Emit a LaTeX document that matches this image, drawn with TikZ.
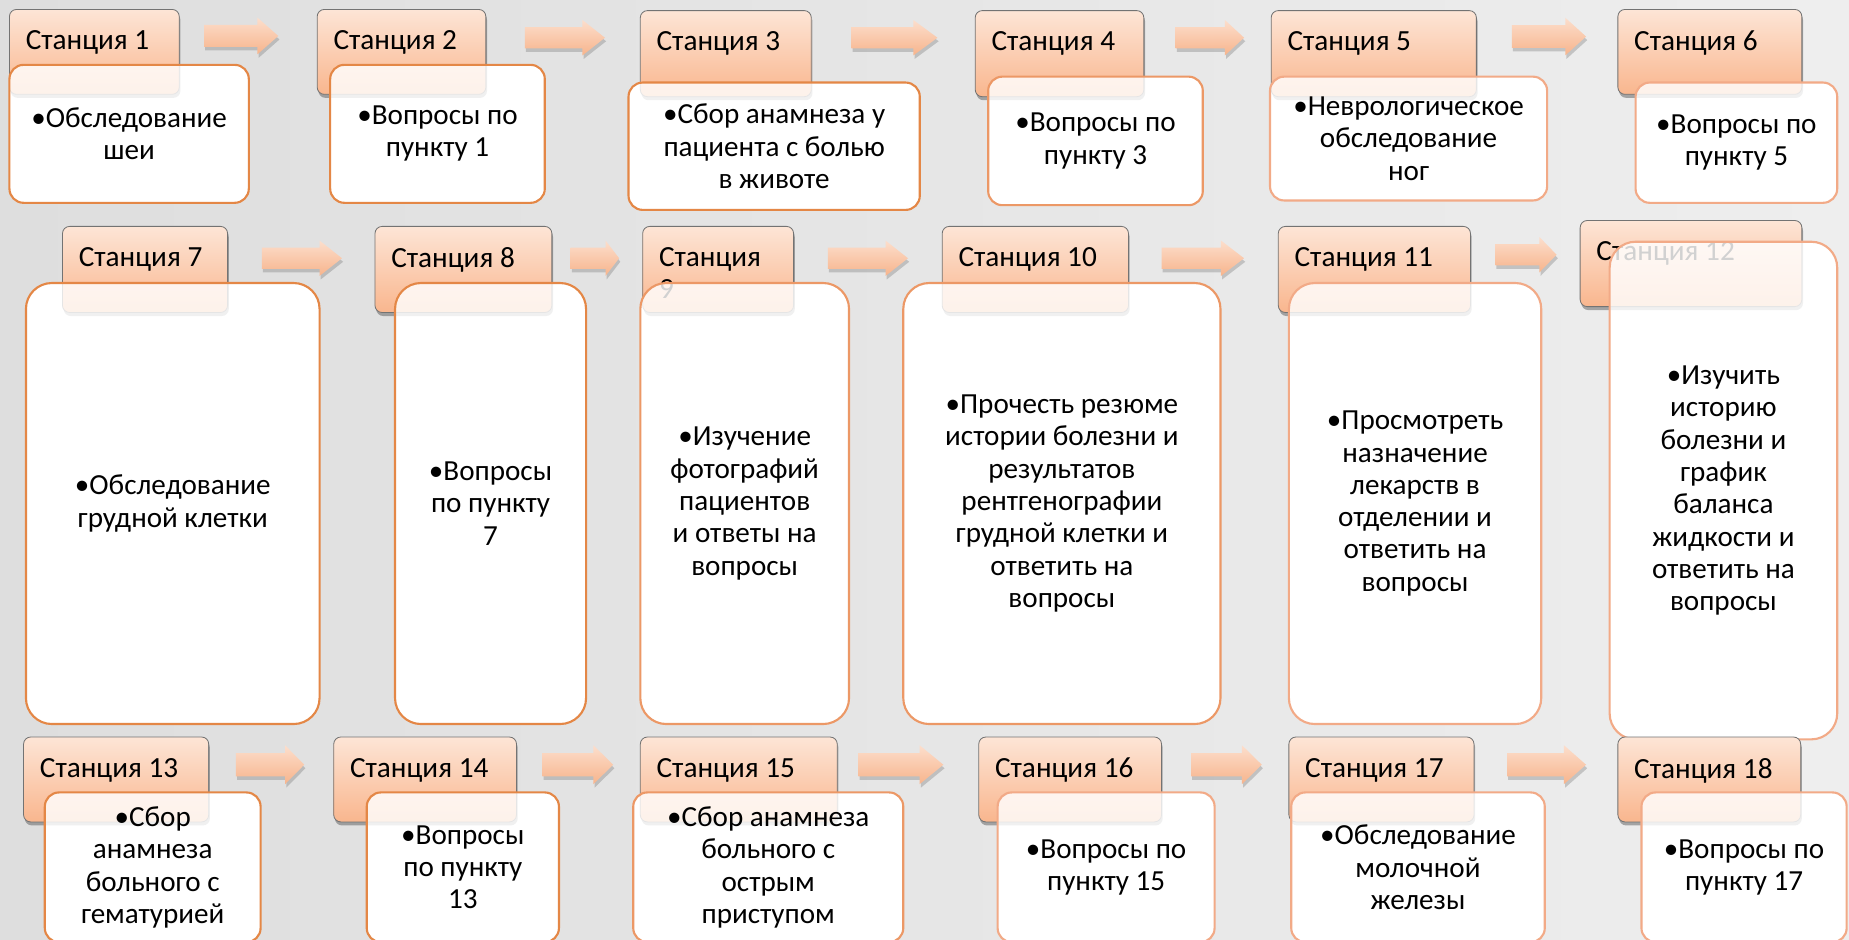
\documentclass[tikz,border=0pt]{standalone}
\usepackage{fontspec}
\setmainfont{Carlito}
\usetikzlibrary{shadows,calc}
\pgfdeclarelayer{bglayer}
\pgfdeclarelayer{under}
\pgfsetlayers{bglayer,under,main}
\definecolor{hdrtop}{RGB}{253,229,214}
\definecolor{hdrbot}{RGB}{249,182,142}
\definecolor{hdrline}{RGB}{115,115,115}
\definecolor{odark}{RGB}{228,135,70}
\definecolor{omid}{RGB}{236,152,102}
\definecolor{olight}{RGB}{242,170,135}
\definecolor{arrtop}{RGB}{252,222,204}
\definecolor{arrbot}{RGB}{247,180,140}
\definecolor{bgedge}{RGB}{222,222,222}
\definecolor{bgright}{RGB}{238,238,238}
\newcommand\hfont{\fontsize{24.8}{27.5}\selectfont}
\newcommand\bfont{\fontsize{24.7}{27.4}\selectfont}
\tikzset{
  hdrbox/.style={draw=hdrline, line width=0.7pt, rounded corners=6pt,
    top color=hdrtop, bottom color=hdrbot, inner sep=0pt,
    drop shadow={shadow xshift=1pt, shadow yshift=-3pt, opacity=0.45, fill=black!70}},
  hdrtext/.style={anchor=north west, inner sep=0pt, align=left, font=\hfont},
  bodysty/.style={draw=#1, line width=1.8pt, fill=white, fill opacity=0.82,
    text opacity=1, align=center, font=\bfont, inner sep=0pt},
  arrsty/.style={top color=arrtop, bottom color=arrbot,
    drop shadow={shadow xshift=1pt, shadow yshift=-3pt, opacity=0.3, fill=black!60}},
}
% header: name x1 y1 x2 y2 text
\newcommand\sthdr[6]{%
  \node[hdrbox, minimum width={(#4-#2)*1pt}, minimum height={(#5-#3)*1pt}]
    (#1) at ({(#2+#4)/2},{(#3+#5)/2}) {};
  \node[hdrtext] (#1t) at ($(#1.north west)+(14,18)$) {#6};}
% body: colour radius name x1 y1 x2 y2 text
\newcommand\stbody[8]{%
  \begin{pgfonlayer}{under}
    \fill[white, rounded corners=#2pt] (#4,#5) rectangle (#6,#7);
  \end{pgfonlayer}
  \node[bodysty=#1, rounded corners=#2pt, minimum width={(#6-#4)*1pt}, minimum height={(#7-#5)*1pt}]
    (#3) at ({(#4+#6)/2},{(#5+#7)/2}) {#8};}
% block arrow: name x1 y1 x2 y2
\newcommand\blockarr[5]{%
  \pgfmathsetmacro\ym{(#3+#5)/2}%
  \pgfmathsetmacro\hh{(#5-#3)*0.3}%
  \pgfmathsetmacro\xh{#4-(#4-#2)*0.28}%
  \path[arrsty] (#2,{\ym-\hh}) -- (\xh,{\ym-\hh}) -- (\xh,#3) -- (#4,\ym)
     -- (\xh,#5) -- (\xh,{\ym+\hh}) -- (#2,{\ym+\hh}) -- cycle;
  \coordinate (#1) at (\xh,\ym);}
\begin{document}
\begin{tikzpicture}[x=1pt,y=-1pt]
\useasboundingbox (0,0) rectangle (1568,797);
\clip (0,0) rectangle (1568,797);
\begin{pgfonlayer}{bglayer}
\shade[left color=bgedge, middle color=white, right color=bgright] (0,0) rectangle (1568,797);
\end{pgfonlayer}

% ---------- row 1 ----------
\sthdr{h1}{8}{8}{152}{80}{Станция 1}
\sthdr{h2}{269}{8}{412}{80}{Станция 2}
\sthdr{h3}{543}{9}{688}{82}{Станция 3}
\sthdr{h4}{827}{9}{970}{82}{Станция 4}
\sthdr{h5}{1078}{9}{1252}{82}{Станция 5}
\sthdr{h6}{1372}{8}{1528}{80}{Станция 6}
\blockarr{a1}{173}{15}{236}{46}
\blockarr{a2}{445}{17}{513}{47}
\blockarr{a3}{722}{17}{795}{47}
\blockarr{a4}{997}{17}{1055}{47}
\blockarr{a5}{1282}{15}{1345}{47}
\stbody{odark}{12}{b1}{8}{55}{211}{172}{•Обследование\\шеи}
\stbody{odark}{12}{b2}{280}{55}{462}{172}{•Вопросы по\\пункту 1}
\stbody{odark}{12}{b3}{533}{70}{780}{178}{•Сбор анамнеза у\\пациента с болью\\в животе}
\stbody{omid}{12}{b4}{838}{65}{1020}{174}{•Вопросы по\\пункту 3}
\stbody{olight}{12}{b5}{1077}{65}{1312}{170}{•Неврологическое\\обследование\\ног}
\stbody{olight}{12}{b6}{1387}{70}{1558}{172}{•Вопросы по\\пункту 5}

% ---------- row 2 ----------
\sthdr{h7}{53}{192}{193}{265}{Станция 7}
\sthdr{h8}{318}{192}{468}{265}{Станция 8}
\sthdr{h9}{545}{192}{673}{265}{Станция\\9}
\sthdr{h10}{799}{192}{957}{265}{Станция 10}
\sthdr{h11}{1084}{192}{1247}{265}{Станция 11}
\sthdr{h12}{1340}{187}{1528}{260}{Станция 12}
\blockarr{a7}{222}{204}{290}{234}
\blockarr{a8}{484}{204}{525}{234}
\blockarr{a9}{702}{204}{770}{234}
\blockarr{a10}{985}{204}{1055}{234}
\blockarr{a11}{1268}{201}{1320}{231}
\stbody{odark}{22}{b7}{22}{240}{271}{614}{•Обследование\\грудной клетки}
\stbody{odark}{22}{b8}{335}{240}{497}{614}{•Вопросы\\по пункту\\7}
\stbody{omid}{22}{b9}{543}{240}{720}{614}{•Изучение\\фотографий\\пациентов\\и ответы на\\вопросы}
\stbody{omid}{22}{b10}{766}{240}{1035}{614}{•Прочесть резюме\\истории болезни и\\результатов\\рентгенографии\\грудной клетки и\\ответить на\\вопросы}
\stbody{olight}{22}{b11}{1093}{240}{1307}{614}{•Просмотреть\\назначение\\лекарств в\\отделении и\\ответить на\\вопросы}
\stbody{olight}{22}{b12}{1365}{205}{1558}{627}{•Изучить\\историю\\болезни и\\график\\баланса\\жидкости и\\ответить на\\вопросы}

% ---------- row 3 ----------
\sthdr{h13}{20}{625}{177}{697}{Станция 13}
\sthdr{h14}{283}{625}{438}{697}{Станция 14}
\sthdr{h15}{543}{625}{710}{697}{Станция 15}
\sthdr{h16}{830}{625}{985}{697}{Станция 16}
\sthdr{h17}{1093}{625}{1250}{697}{Станция 17}
\sthdr{h18}{1372}{625}{1527}{697}{Станция 18}
\blockarr{a13}{200}{632}{258}{665}
\blockarr{a14}{460}{632}{520}{665}
\blockarr{a15}{728}{632}{800}{665}
\blockarr{a16}{1010}{632}{1070}{665}
\blockarr{a17}{1278}{632}{1345}{665}
\stbody{odark}{12}{b13}{38}{672}{221}{799}{•Сбор\\анамнеза\\больного с\\гематурией}
\stbody{odark}{12}{b14}{311}{672}{474}{799}{•Вопросы\\по пункту\\13}
\stbody{omid}{12}{b15}{537}{672}{766}{799}{•Сбор анамнеза\\больного с\\острым\\приступом}
\stbody{olight}{12}{b16}{846}{672}{1030}{799}{•Вопросы по\\пункту 15}
\stbody{olight}{12}{b17}{1095}{672}{1310}{799}{•Обследование\\молочной\\железы}
\stbody{olight}{12}{b18}{1392}{672}{1566}{799}{•Вопросы по\\пункту 17}
\end{tikzpicture}
\end{document}
